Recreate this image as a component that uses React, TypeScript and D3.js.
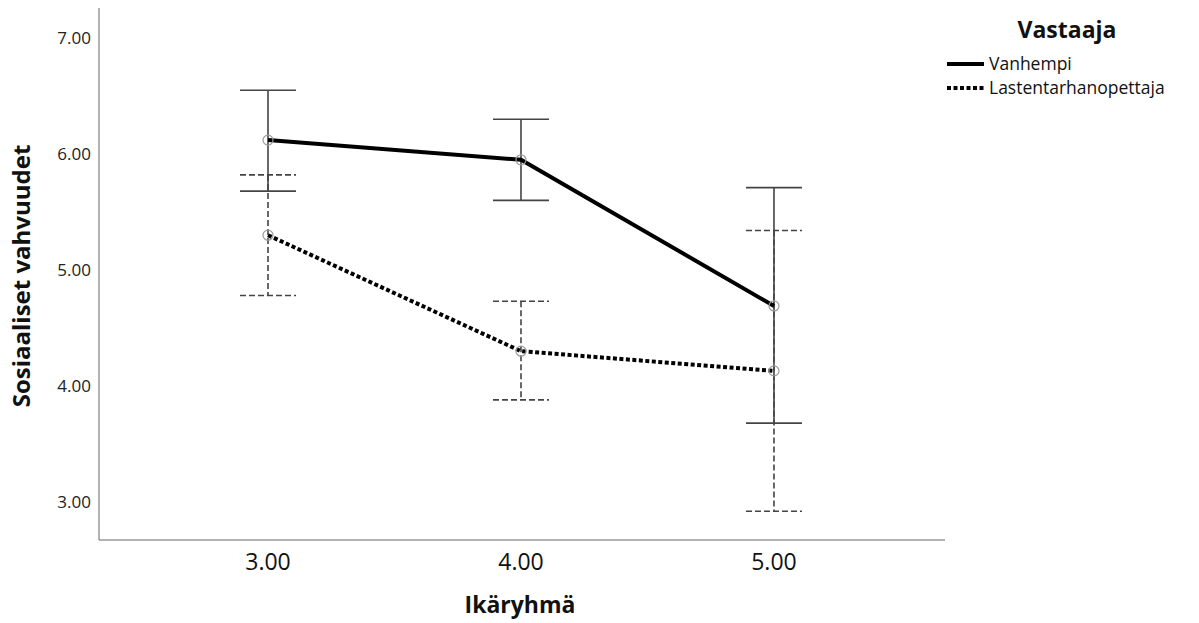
import React from "react";
import * as d3 from "d3";

const ageGroups = [3, 4, 5];
const seriesNames = ["Vanhempi", "Lastentarhanopettaja"];
const parentMean = [6.12, 5.95, 4.69];
const parentUpper = [6.55, 6.3, 5.71];
const parentLower = [5.68, 5.6, 3.68];
const teacherMean = [5.3, 4.3, 4.13];
const teacherUpper = [5.82, 4.73, 5.34];
const teacherLower = [4.78, 3.88, 2.92];
const yTicks = [3, 4, 5, 6, 7];

const FONT = "'Open Sans', 'DejaVu Sans', sans-serif";

export default function App() {
  const width = 1199;
  const height = 623;
  const left = 99;
  const right = 945;
  const top = 8;
  const bottom = 540;

  const x = d3.scaleLinear().domain([2.332, 5.676]).range([left, right]);
  const y = d3.scaleLinear().domain([2.672, 7.259]).range([bottom, top]);

  const series = [
    { name: seriesNames[0], mean: parentMean, up: parentUpper, lo: parentLower, dash: null, barDash: null },
    { name: seriesNames[1], mean: teacherMean, up: teacherUpper, lo: teacherLower, dash: "4,2.5", barDash: "6,3" },
  ];

  const line = d3.line<number>()
    .x((_, i) => x(ageGroups[i]))
    .y(d => y(d));

  const cap = 28;

  return (
    <svg width={width} height={height} style={{ position: "absolute", left: 0, top: 0, background: "white" }}>
      {/* axes */}
      <line x1={left} x2={left} y1={top} y2={bottom} stroke="#666" strokeWidth={1} />
      <line x1={left} x2={right} y1={bottom} y2={bottom} stroke="#666" strokeWidth={1} />
      {yTicks.map(t => (
        <text key={t} x={91} y={y(t)} dy="0.35em" textAnchor="end" fontFamily={FONT} fontSize={17} fill="#222">
          {t.toFixed(2)}
        </text>
      ))}
      {ageGroups.map(g => (
        <text key={g} x={x(g)} y={562} dy="0.35em" textAnchor="middle" fontFamily={FONT} fontSize={23} fill="#111">
          {g.toFixed(2)}
        </text>
      ))}
      <text x={520} y={605} dy="0.35em" textAnchor="middle" fontFamily={FONT} fontSize={23} fontWeight="bold" fill="#111">
        Ikäryhmä
      </text>
      <text transform={`translate(22,276) rotate(-90)`} dy="0.35em" textAnchor="middle" fontFamily={FONT} fontSize={24} fontWeight="bold" fill="#111">
        Sosiaaliset vahvuudet
      </text>

      {/* error bars */}
      {series.map(s => (
        <g key={s.name + "-err"} stroke="#444" strokeWidth={1.6} strokeDasharray={s.barDash ?? undefined}>
          {ageGroups.map((g, i) => (
            <g key={g}>
              <line x1={x(g)} x2={x(g)} y1={y(s.up[i])} y2={y(s.lo[i])} />
              <line x1={x(g) - cap} x2={x(g) + cap} y1={y(s.up[i])} y2={y(s.up[i])} />
              <line x1={x(g) - cap} x2={x(g) + cap} y1={y(s.lo[i])} y2={y(s.lo[i])} />
            </g>
          ))}
        </g>
      ))}

      {/* lines */}
      {series.map(s => (
        <path key={s.name + "-line"} d={line(s.mean) ?? ""} fill="none" stroke="#000" strokeWidth={4}
          strokeDasharray={s.dash ?? undefined} />
      ))}

      {/* markers */}
      {series.map(s => (
        <g key={s.name + "-pts"}>
          {ageGroups.map((g, i) => (
            <circle key={g} cx={x(g)} cy={y(s.mean[i])} r={5} fill="none" stroke="#999" strokeWidth={1.2} />
          ))}
        </g>
      ))}

      {/* legend */}
      <text x={1067} y={30} dy="0.35em" textAnchor="middle" fontFamily={FONT} fontSize={23} fontWeight="bold" fill="#111">
        Vastaaja
      </text>
      {series.map((s, i) => (
        <g key={s.name + "-leg"} transform={`translate(947,${64 + i * 24})`}>
          <line x1={0} x2={37} y1={0} y2={0} stroke="#000" strokeWidth={4} strokeDasharray={s.dash ?? undefined} />
          <text x={42} y={0} dy="0.35em" fontFamily={FONT} fontSize={17.5} fill="#111">
            {s.name}
          </text>
        </g>
      ))}
    </svg>
  );
}
